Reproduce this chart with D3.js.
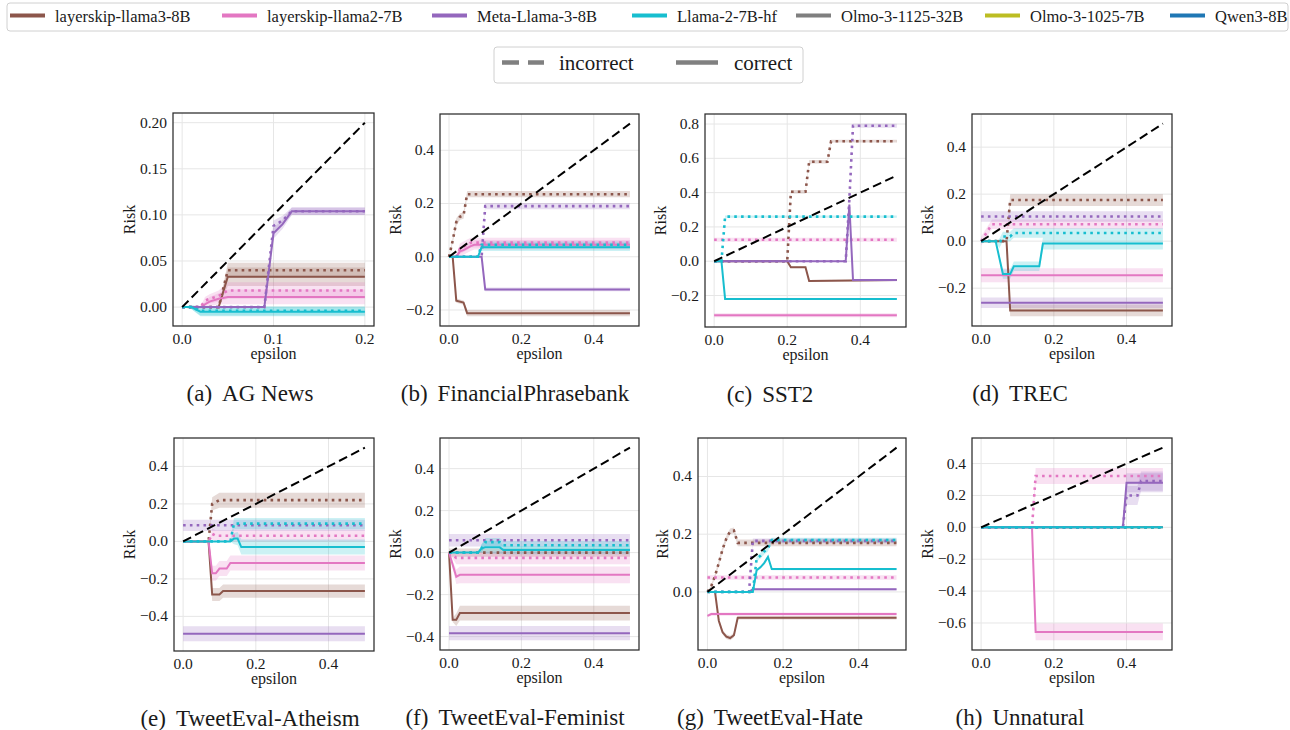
<!DOCTYPE html>
<html><head><meta charset="utf-8">
<script src="https://cdn.jsdelivr.net/npm/d3@7"></script>
<style>
body{margin:0;background:#fff}
text{font-family:"Liberation Serif","Times New Roman",serif;fill:#1a1a1a}
</style>
</head><body>
<svg id="chart" width="1290" height="730"></svg>
<script>
// ---------------- DATA ----------------
const models = ["layerskip-llama3-8B","layerskip-llama2-7B","Meta-Llama-3-8B","Llama-2-7B-hf","Olmo-3-1125-32B","Olmo-3-1025-7B","Qwen3-8B"];
const kinds = ["incorrect","correct"];
const panelLetters = ["(a)","(b)","(c)","(d)","(e)","(f)","(g)","(h)"];
const panelNames = ["AG News","FinancialPhrasebank","SST2","TREC","TweetEval-Atheism","TweetEval-Feminist","TweetEval-Hate","Unnatural"];
const epsMax = [0.2,0.5,0.5,0.5,0.5,0.5,0.5,0.5];
const xTicks = [[0,0.1,0.2],[0,0.2,0.4],[0,0.2,0.4],[0,0.2,0.4],[0,0.2,0.4],[0,0.2,0.4],[0,0.2,0.4],[0,0.2,0.4]];
const yTicks = [
  [0,0.05,0.10,0.15,0.20],
  [-0.2,0,0.2,0.4],
  [-0.2,0,0.2,0.4,0.6,0.8],
  [-0.2,0,0.2,0.4],
  [-0.4,-0.2,0,0.2,0.4],
  [-0.4,-0.2,0,0.2,0.4],
  [0,0.2,0.4],
  [-0.6,-0.4,-0.2,0,0.2,0.4]
];
const yDecimals = [2,1,1,1,1,1,1,1];

// series: [modelIndex, kind, epsilon[], risk[], std[]]
const agNews = [
  [0,"incorrect",[0,0.04,0.05,0.2],[0,0,0.040,0.040],[0,0,0.008,0.008]],
  [0,"correct",[0,0.04,0.05,0.2],[0,0,0.033,0.033],[0,0,0.010,0.010]],
  [1,"incorrect",[0,0.02,0.025,0.03,0.04,0.05,0.2],[0,0,0.007,0.009,0.012,0.018,0.018],[0,0,0.004,0.005,0.006,0.009,0.009]],
  [1,"correct",[0,0.02,0.03,0.04,0.05,0.2],[0,0,0.006,0.009,0.011,0.011],[0,0,0.005,0.006,0.008,0.008]],
  [2,"incorrect",[0,0.09,0.1,0.11,0.12,0.2],[0,0,0.088,0.094,0.104,0.104],[0,0,0.006,0.005,0.004,0.004]],
  [2,"correct",[0,0.09,0.1,0.11,0.12,0.2],[0,0,0.080,0.090,0.104,0.104],[0,0,0.006,0.005,0.004,0.004]],
  [3,"incorrect",[0,0.01,0.02,0.2],[0,0,-0.004,-0.004],[0,0.002,0.005,0.005]],
  [3,"correct",[0,0.01,0.02,0.2],[0,0,-0.005,-0.005],[0,0.002,0.005,0.005]]
];
const financialPhrasebank = [
  [0,"incorrect",[0,0.01,0.02,0.03,0.04,0.05,0.5],[0,0.06,0.13,0.15,0.155,0.235,0.235],[0,0.01,0.015,0.012,0.012,0.012,0.012]],
  [0,"correct",[0,0.01,0.02,0.04,0.05,0.5],[0,0,-0.165,-0.172,-0.212,-0.212],[0,0,0.008,0.008,0.012,0.012]],
  [1,"incorrect",[0,0.02,0.03,0.05,0.06,0.5],[0,0,0.03,0.045,0.053,0.053],[0,0.005,0.02,0.02,0.018,0.018]],
  [1,"correct",[0,0.02,0.03,0.04,0.06,0.07,0.5],[0,0,0.02,0.025,0.04,0.045,0.045],[0,0.005,0.018,0.018,0.018,0.018,0.018]],
  [2,"incorrect",[0,0.09,0.1,0.5],[0,0,0.19,0.19],[0,0,0.012,0.012]],
  [2,"correct",[0,0.09,0.1,0.5],[0,0,-0.123,-0.123],[0,0,0.007,0.007]],
  [3,"incorrect",[0,0.08,0.09,0.5],[0,0,0.045,0.045],[0,0,0.012,0.012]],
  [3,"correct",[0,0.08,0.09,0.5],[0,0,0.036,0.036],[0,0,0.014,0.014]]
];
const sst2 = [
  [0,"incorrect",[0,0.2,0.21,0.25,0.26,0.31,0.32,0.5],[0,0,0.405,0.405,0.58,0.58,0.70,0.70],[0,0,0.01,0.01,0.01,0.01,0.008,0.008]],
  [0,"correct",[0,0.2,0.21,0.25,0.26,0.5],[0,0,-0.035,-0.035,-0.115,-0.11],[0,0,0.005,0.005,0.005,0.005]],
  [1,"incorrect",[0,0.5],[0.125,0.125],[0.012,0.012]],
  [1,"correct",[0,0.5],[-0.315,-0.315],[0.012,0.012]],
  [2,"incorrect",[0,0.36,0.37,0.38,0.5],[0,0,0.36,0.79,0.79],[0,0,0.01,0.012,0.012]],
  [2,"correct",[0,0.36,0.37,0.38,0.5],[0,0,0.33,-0.11,-0.11],[0,0,0.01,0.006,0.006]],
  [3,"incorrect",[0,0.02,0.03,0.5],[0,0,0.26,0.26],[0,0,0.006,0.006]],
  [3,"correct",[0,0.02,0.03,0.5],[0,0,-0.22,-0.22],[0,0,0.005,0.005]]
];
const trec = [
  [0,"incorrect",[0,0.07,0.08,0.5],[0,0,0.175,0.175],[0,0,0.025,0.025]],
  [0,"correct",[0,0.07,0.08,0.5],[0,0,-0.295,-0.295],[0,0,0.025,0.025]],
  [1,"incorrect",[0,0.03,0.5],[0,0.072,0.072],[0.02,0.02,0.02]],
  [1,"correct",[0,0.5],[-0.145,-0.145],[0.03,0.03]],
  [2,"incorrect",[0,0.5],[0.105,0.105],[0.022,0.022]],
  [2,"correct",[0,0.5],[-0.262,-0.262],[0.022,0.022]],
  [3,"incorrect",[0,0.04,0.05,0.06,0.08,0.09,0.5],[0,0,-0.01,0.02,0.02,0.035,0.035],[0,0,0.02,0.02,0.02,0.02,0.02]],
  [3,"correct",[0,0.04,0.06,0.08,0.09,0.16,0.17,0.5],[0,0,-0.14,-0.14,-0.107,-0.107,-0.01,-0.01],[0,0,0.02,0.02,0.02,0.02,0.025,0.025]]
];
const tweetAtheism = [
  [0,"incorrect",[0,0.07,0.08,0.1,0.5],[0,0,0.2,0.22,0.22],[0,0,0.035,0.04,0.04]],
  [0,"correct",[0,0.07,0.08,0.1,0.11,0.5],[0,0,-0.283,-0.283,-0.265,-0.265],[0,0,0.035,0.035,0.035,0.035]],
  [1,"incorrect",[0,0.07,0.08,0.09,0.5],[0,0,0.04,0.03,0.03],[0,0,0.03,0.03,0.03]],
  [1,"correct",[0,0.07,0.08,0.09,0.1,0.12,0.13,0.5],[0,0,-0.17,-0.17,-0.145,-0.145,-0.115,-0.115],[0,0,0.04,0.04,0.04,0.04,0.04,0.04]],
  [2,"incorrect",[0,0.5],[0.086,0.086],[0.03,0.03]],
  [2,"correct",[0,0.5],[-0.493,-0.493],[0.04,0.04]],
  [3,"incorrect",[0,0.13,0.14,0.5],[0,0,0.095,0.095],[0,0,0.03,0.03]],
  [3,"correct",[0,0.13,0.14,0.15,0.16,0.5],[0,0,0.015,0.015,-0.03,-0.03],[0,0,0.03,0.035,0.04,0.04]]
];
const tweetFeminist = [
  [0,"incorrect",[0,0.5],[0,0],[0.02,0.02]],
  [0,"correct",[0,0.01,0.02,0.03,0.5],[0,-0.32,-0.32,-0.288,-0.288],[0,0.01,0.03,0.035,0.035]],
  [1,"incorrect",[0,0.02,0.5],[0,-0.025,-0.025],[0,0.03,0.03]],
  [1,"correct",[0,0.02,0.03,0.5],[0,-0.115,-0.106,-0.106],[0,0.035,0.04,0.04]],
  [2,"incorrect",[0,0.5],[0.059,0.059],[0.03,0.03]],
  [2,"correct",[0,0.5],[-0.384,-0.384],[0.034,0.034]],
  [3,"incorrect",[0,0.08,0.09,0.1,0.14,0.15,0.5],[0,0,0.02,0.05,0.05,0.035,0.035],[0,0,0.02,0.02,0.02,0.02,0.02]],
  [3,"correct",[0,0.08,0.09,0.1,0.14,0.15,0.5],[0,0,0.02,0.025,0.025,0.012,0.012],[0,0,0.02,0.03,0.03,0.02,0.02]]
];
const tweetHate = [
  [0,"incorrect",[0,0.01,0.02,0.03,0.04,0.05,0.06,0.07,0.08,0.5],[0,0.02,0.055,0.1,0.148,0.185,0.21,0.213,0.17,0.17],[0,0.005,0.008,0.01,0.01,0.01,0.01,0.01,0.012,0.012]],
  [0,"correct",[0,0.02,0.03,0.04,0.05,0.06,0.07,0.08,0.5],[0,0,-0.1,-0.14,-0.155,-0.16,-0.15,-0.09,-0.09],[0,0,0.008,0.008,0.008,0.008,0.008,0.006,0.006]],
  [1,"incorrect",[0,0.5],[0.05,0.05],[0.008,0.008]],
  [1,"correct",[0,0.01,0.5],[-0.083,-0.077,-0.077],[0.005,0.006,0.006]],
  [2,"incorrect",[0,0.11,0.12,0.5],[0,0,0.177,0.177],[0,0,0.008,0.008]],
  [2,"correct",[0,0.11,0.12,0.5],[0,0,0.009,0.009],[0,0,0.004,0.004]],
  [3,"incorrect",[0,0.12,0.13,0.14,0.15,0.16,0.17,0.5],[0,0,0.115,0.125,0.14,0.15,0.18,0.18],[0,0,0.01,0.01,0.01,0.01,0.008,0.008]],
  [3,"correct",[0,0.12,0.13,0.14,0.15,0.16,0.17,0.5],[0,0,0.075,0.085,0.1,0.121,0.079,0.079],[0,0,0.005,0.005,0.005,0.005,0.004,0.004]]
];
const unnatural = [
  [0,"incorrect",[0,0.5],[0,0],[0,0]],
  [0,"correct",[0,0.5],[0,0],[0,0]],
  [1,"incorrect",[0,0.14,0.15,0.5],[0,0,0.322,0.322],[0,0,0.05,0.05]],
  [1,"correct",[0,0.14,0.15,0.5],[0,0,-0.656,-0.656],[0,0,0.053,0.053]],
  [2,"incorrect",[0,0.39,0.4,0.43,0.44,0.5],[0,0,0.2,0.2,0.29,0.29],[0,0,0.06,0.06,0.06,0.06]],
  [2,"correct",[0,0.39,0.4,0.5],[0,0,0.28,0.28],[0,0,0.06,0.06]],
  [3,"incorrect",[0,0.5],[0,0],[0,0]],
  [3,"correct",[0,0.5],[0,0],[0,0]]
];
const panelSeries = [agNews, financialPhrasebank, sst2, trec, tweetAtheism, tweetFeminist, tweetHate, unnatural];

// ---------------- STYLE / LAYOUT ----------------
const colors = ["#8c564b","#e377c2","#9467bd","#17becf","#7f7f7f","#bcbd22","#1f77b4"];
const boxes = [ // [left, top, right, bottom] of each axes
  [173,113,374,326],[440,114,639,326],[705,114,906,327],[972,114,1172,326],
  [174,438,374,651],[440,438,639,650],[698,438,906,650],[972,438,1172,650]
];
const captionCenters = [250,515,770,1020,250,515,770,1020];
const svg = d3.select("#chart");
const FONT = "Liberation Serif, Times New Roman, serif";

const fmtTick = (v, dec) => {
  const s = Math.abs(v).toFixed(dec);
  return (v < -1e-12 ? "\u2212" : "") + s;
};

panelSeries.forEach((series, p) => {
  const [L, T, R, B] = boxes[p];
  const xm = epsMax[p];
  const x = d3.scaleLinear().domain([-0.05 * xm, 1.05 * xm]).range([L, R]);
  let lo = 0, hi = xm;
  series.forEach(s => s[3].forEach((v, i) => { lo = Math.min(lo, v - s[4][i]); hi = Math.max(hi, v + s[4][i]); }));
  const pad = 0.05 * (hi - lo);
  const y = d3.scaleLinear().domain([lo - pad, hi + pad]).range([B, T]);
  const g = svg.append("g");

  // grid
  g.selectAll(".gx").data(xTicks[p]).join("line")
    .attr("x1", d => x(d)).attr("x2", d => x(d)).attr("y1", T).attr("y2", B)
    .attr("stroke", "#e6e6e6").attr("stroke-width", 1);
  g.selectAll(".gy").data(yTicks[p]).join("line")
    .attr("x1", L).attr("x2", R).attr("y1", d => y(d)).attr("y2", d => y(d))
    .attr("stroke", "#e6e6e6").attr("stroke-width", 1);

  const pts = s => s[2].map((e, i) => [e, s[3][i], s[4][i]]);
  const area = d3.area().x(d => x(d[0])).y0(d => y(d[1] - d[2])).y1(d => y(d[1] + d[2]));
  const line = d3.line().x(d => x(d[0])).y(d => y(d[1]));

  // bands (behind lines)
  series.forEach(s => {
    g.append("path").attr("d", area(pts(s))).attr("fill", colors[s[0]]).attr("fill-opacity", 0.22).attr("stroke", "none");
  });
  // lines
  series.forEach(s => {
    const path = g.append("path").attr("d", line(pts(s))).attr("fill", "none").attr("stroke", colors[s[0]]);
    if (s[1] === "incorrect") path.attr("stroke-width", 2.6).attr("stroke-dasharray", "2.6,4.2");
    else path.attr("stroke-width", 2);
  });
  // y = x reference
  g.append("path").attr("d", line([[0, 0], [xm, xm]])).attr("fill", "none")
    .attr("stroke", "#000").attr("stroke-width", 2).attr("stroke-dasharray", "9,4.5");

  // spines
  g.append("rect").attr("x", L).attr("y", T).attr("width", R - L).attr("height", B - T)
    .attr("fill", "none").attr("stroke", "#2b2b2b").attr("stroke-width", 1.25);

  // tick labels
  g.selectAll(".xt").data(xTicks[p]).join("text")
    .attr("x", d => x(d)).attr("y", B + 18).attr("text-anchor", "middle")
    .attr("font-family", FONT).attr("font-size", 15.5).text(d => fmtTick(d, 1));
  const yl = g.selectAll(".yt").data(yTicks[p]).join("text")
    .attr("x", L - 6).attr("y", d => y(d) + 5).attr("text-anchor", "end")
    .attr("font-family", FONT).attr("font-size", 15.5).text(d => fmtTick(d, yDecimals[p]));
  let maxW = 0;
  yl.each(function () { maxW = Math.max(maxW, this.getComputedTextLength()); });

  // axis labels
  g.append("text").attr("x", (L + R) / 2).attr("y", B + 33).attr("text-anchor", "middle")
    .attr("font-family", FONT).attr("font-size", 16).text("epsilon");
  const lx = L - 6 - maxW - 5;
  g.append("text").attr("transform", `translate(${lx},${(T + B) / 2}) rotate(-90)`)
    .attr("text-anchor", "middle").attr("font-family", FONT).attr("font-size", 16).text("Risk");

  // sub-caption
  const cap = g.append("text").attr("x", captionCenters[p]).attr("y", B + 75)
    .attr("text-anchor", "middle").attr("font-family", FONT).attr("font-size", 23);
  cap.append("tspan").text(panelLetters[p]);
  cap.append("tspan").attr("dx", 10).text(panelNames[p]);
});

// ---------------- LEGENDS ----------------
const leg1 = svg.append("g");
leg1.append("rect").attr("x", 7).attr("y", 3).attr("width", 1281).attr("height", 28).attr("rx", 3)
  .attr("fill", "#fff").attr("stroke", "#d0d0d0").attr("stroke-width", 1);
const legX = [10, 222, 432, 632, 796, 985, 1170];
models.forEach((m, i) => {
  leg1.append("line").attr("x1", legX[i]).attr("x2", legX[i] + 35).attr("y1", 15.5).attr("y2", 15.5)
    .attr("stroke", colors[i]).attr("stroke-width", 4);
  leg1.append("text").attr("x", legX[i] + 45).attr("y", 21.5).attr("font-family", FONT).attr("font-size", 16.5).text(m);
});

const leg2 = svg.append("g");
leg2.append("rect").attr("x", 494).attr("y", 47).attr("width", 309).attr("height", 36).attr("rx", 3)
  .attr("fill", "#fff").attr("stroke", "#d0d0d0").attr("stroke-width", 1);
const leg2X = [502, 676];
const leg2TextX = [559, 734];
kinds.forEach((k, i) => {
  const ln = leg2.append("line").attr("x1", leg2X[i]).attr("x2", leg2X[i] + 42).attr("y1", 62.5).attr("y2", 62.5)
    .attr("stroke", "#808080").attr("stroke-width", 4.5);
  if (k === "incorrect") ln.attr("stroke-dasharray", "17,9");
  leg2.append("text").attr("x", leg2TextX[i]).attr("y", 69.5).attr("font-family", FONT).attr("font-size", 21).text(k);
});
</script>
</body></html>
